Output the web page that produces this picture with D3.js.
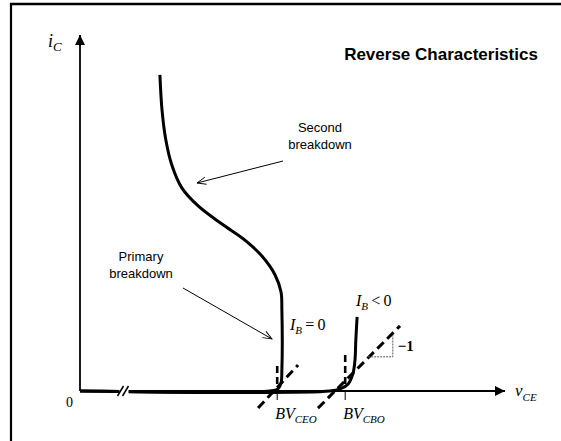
<!DOCTYPE html>
<html><head><meta charset="utf-8">
<script src="https://cdn.jsdelivr.net/npm/d3@7"></script>
<style>body{margin:0;background:#fff}svg{display:block}</style>
</head><body>
<script>
// ---- data (v_CE, i_C in arbitrary units) ----
const curveIB0 = [[0,0],[4.47,0],[4.66,0.06],[4.73,0.22],[4.75,0.59],[4.75,2.28],[4.73,2.78],[4.59,3.26],[4.28,3.79],[3.88,4.24],[3.34,4.69],[2.78,5.20],[2.40,5.70],[2.16,6.35],[2.02,7.05],[1.93,7.89],[1.88,8.88]];
const curveIBneg = [[0,0],[5.88,0],[6.12,0.06],[6.31,0.20],[6.42,0.48],[6.47,0.87],[6.49,1.43],[6.52,2.08]];
const bvValues = [4.64, 6.24];
const bvLabels = ["CEO", "CBO"];
const slopeLine1 = [[4.19,-0.48],[5.13,0.73]];
const slopeLine2 = [[5.60,-0.48],[7.53,1.83]];
const triangle = [[6.78,0.96],[7.36,0.96],[7.36,1.57]];
const title = "Reverse Characteristics";

const W = 561, H = 441;
const svg = d3.select("body").append("svg").attr("width", W).attr("height", H);
const x = d3.scaleLinear().domain([0, 10]).range([80, 505]);
const y = d3.scaleLinear().domain([0, 10]).range([391, 35]);

// frame
svg.append("line").attr("x1",10).attr("x2",W).attr("y1",4).attr("y2",4).attr("stroke","#000").attr("stroke-width",2.4);
svg.append("line").attr("x1",11).attr("x2",11).attr("y1",3).attr("y2",H).attr("stroke","#000").attr("stroke-width",2.2);

// arrow markers
const defs = svg.append("defs");
defs.append("marker").attr("id","ah").attr("viewBox","0 0 10 10").attr("refX",10).attr("refY",5)
  .attr("markerWidth",11).attr("markerHeight",10).attr("markerUnits","userSpaceOnUse").attr("orient","auto")
  .append("path").attr("d","M0,0 L10,5 L0,10 z").attr("fill","#000");
defs.append("marker").attr("id","oh").attr("viewBox","0 0 10 10").attr("refX",10).attr("refY",5)
  .attr("markerWidth",11).attr("markerHeight",9).attr("markerUnits","userSpaceOnUse").attr("orient","auto")
  .append("path").attr("d","M0,1 L10,5 L0,9").attr("fill","none").attr("stroke","#000").attr("stroke-width",1);

// axes
svg.append("line").attr("x1",x(0)).attr("y1",y(0)).attr("x2",x(0)).attr("y2",y(10)).attr("stroke","#000").attr("stroke-width",1.8).attr("marker-end","url(#ah)");
svg.append("line").attr("x1",x(0)).attr("y1",y(0)).attr("x2",x(10)).attr("y2",y(0)).attr("stroke","#000").attr("stroke-width",1.8).attr("marker-end","url(#ah)");

// curves
const line = d3.line().x(d=>x(d[0])).y(d=>y(d[1])).curve(d3.curveCatmullRom.alpha(0.5));
[curveIB0, curveIBneg].forEach(c=>{
  svg.append("path").attr("d", line(c)).attr("fill","none").attr("stroke","#000").attr("stroke-width",3).attr("stroke-linejoin","round");
});

// break mark
const bx = x(1.0);
svg.append("rect").attr("x",bx-3).attr("y",y(0)-3).attr("width",9).attr("height",6).attr("fill","#fff");
[-2,3].forEach(o=>svg.append("line").attr("x1",bx+o-3).attr("y1",y(0)+5).attr("x2",bx+o+3).attr("y2",y(0)-5).attr("stroke","#000").attr("stroke-width",1.5));

// dashed slope lines
const straight = d3.line().x(d=>x(d[0])).y(d=>y(d[1]));
[slopeLine1, slopeLine2].forEach(l=>{
  svg.append("path").attr("d", straight(l)).attr("fill","none").attr("stroke","#000").attr("stroke-width",3).attr("stroke-dasharray","9,5");
});

// BV ticks and dashed verticals
bvValues.forEach((v,i)=>{
  svg.append("line").attr("x1",x(v)).attr("x2",x(v)).attr("y1",y(0)).attr("y2",y(0)+9).attr("stroke","#000").attr("stroke-width",1);
  svg.append("line").attr("x1",x(v)).attr("x2",x(v)).attr("y1",y(0.2)).attr("y2",y(i===0?0.7:1.12)).attr("stroke","#000").attr("stroke-width",2.6).attr("stroke-dasharray","7,4");
  const t = svg.append("text").attr("x",x(v)-2).attr("y",419).attr("font-family","Liberation Serif, serif").attr("font-style","italic").attr("font-size",16);
  t.append("tspan").text("BV");
  t.append("tspan").attr("font-size",11).attr("dy",4).text(bvLabels[i]);
});

// -1 triangle
svg.append("path").attr("d", straight(triangle)).attr("fill","none").attr("stroke","#555").attr("stroke-width",1).attr("stroke-dasharray","2,1");
svg.append("text").attr("x",x(7.36)+5).attr("y",y(1.27)+5).attr("font-family","Liberation Serif, serif").attr("font-size",15).attr("font-weight","bold").text("\u22121");

// axis labels
const ic = svg.append("text").attr("x",48).attr("y",47).attr("font-family","Liberation Serif, serif").attr("font-style","italic").attr("font-size",18);
ic.append("tspan").text("i");
ic.append("tspan").attr("font-size",13).attr("dy",4).text("C");
const vce = svg.append("text").attr("x",515).attr("y",396).attr("font-family","Liberation Serif, serif").attr("font-style","italic").attr("font-size",17);
vce.append("tspan").text("v");
vce.append("tspan").attr("font-size",11).attr("dy",5).text("CE");
svg.append("text").attr("x",66).attr("y",407).attr("font-family","Liberation Serif, serif").attr("font-size",14).text("0");

// I_B labels
function ibLabel(px, py, rest){
  const t = svg.append("text").attr("x",px).attr("y",py).attr("font-family","Liberation Serif, serif").attr("font-size",16);
  t.append("tspan").attr("font-style","italic").text("I");
  t.append("tspan").attr("font-style","italic").attr("font-size",11).attr("dy",4).text("B");
  t.append("tspan").attr("dy",-4).text(rest);
}
ibLabel(290, 330, "\u2009=\u20090");
ibLabel(356, 306, "\u2009<\u20090");

// title
svg.append("text").attr("x",441).attr("y",60).attr("text-anchor","middle").attr("font-family","Liberation Sans, Arial, sans-serif").attr("font-weight","bold").attr("font-size",17).text(title);

// annotations
function note(lines, cx, cy){
  const t = svg.append("text").attr("font-family","Liberation Sans, Arial, sans-serif").attr("font-size",13).attr("text-anchor","middle");
  lines.forEach((s,i)=>t.append("tspan").attr("x",cx).attr("y",cy+i*17).text(s));
}
note(["Second","breakdown"], 320, 132);
svg.append("line").attr("x1",283).attr("y1",161).attr("x2",197).attr("y2",183).attr("stroke","#000").attr("stroke-width",1).attr("marker-end","url(#oh)");
note(["Primary","breakdown"], 141, 261);
svg.append("line").attr("x1",183).attr("y1",288).attr("x2",272).attr("y2",339).attr("stroke","#000").attr("stroke-width",1).attr("marker-end","url(#oh)");
</script>
</body></html>
